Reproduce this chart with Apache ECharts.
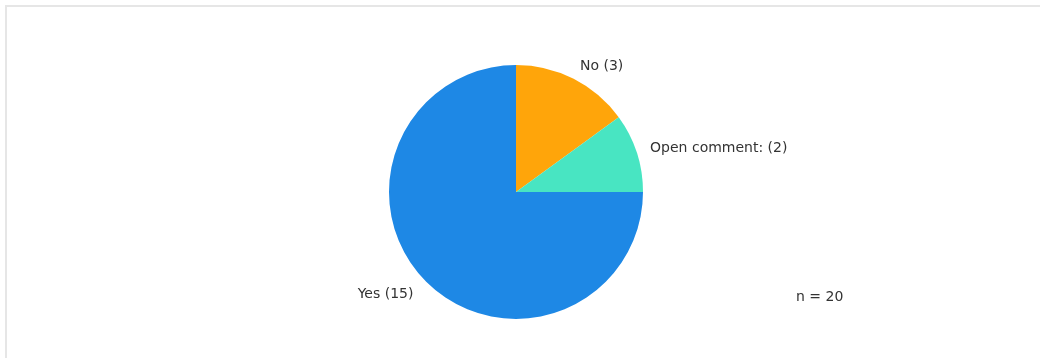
<!DOCTYPE html>
<html>
<head>
<meta charset="utf-8">
<script src="https://cdn.jsdelivr.net/npm/echarts@6/dist/echarts.min.js"></script>
<style>
html,body{margin:0;padding:0;background:#fff;}
#chart{width:1040px;height:358px;}
</style>
</head>
<body>
<div id="chart"></div>
<script>
const categories = ['No (3)', 'Open comment: (2)', 'Yes (15)'];
const values = [3, 2, 15];
const colors = ['#FFA50A', '#48E5C2', '#1E88E5'];
const totalLabel = 'n = 20';

const lineLens = [14, 14, 18];

const chart = echarts.init(document.getElementById('chart'));
chart.setOption({
  animation: false,
  graphic: [
    { type: 'rect', shape: { x: 6, y: 6, width: 1200, height: 500 }, style: { fill: 'none', stroke: '#e6e6e6', lineWidth: 2 }, silent: true },
    { type: 'text', left: 796, top: 290, style: { text: totalLabel, fontFamily: 'DejaVu Sans', fontSize: 14, fill: '#333' } }
  ],
  series: [{
    type: 'pie',
    center: [516, 192],
    radius: [0, 127],
    startAngle: 90,
    clockwise: true,
    avoidLabelOverlap: false,
    label: {
      show: true,
      position: 'outside',
      formatter: '{b}',
      fontFamily: 'DejaVu Sans',
      fontSize: 14,
      color: '#333',
      distanceToLabelLine: 0
    },
    labelLine: { show: false, length: 14, length2: 0 },
    itemStyle: { borderWidth: 0 },
    emphasis: { disabled: true },
    data: categories.map((c, i) => ({
      name: c,
      value: values[i],
      itemStyle: { color: colors[i] },
      labelLine: { show: false, length: lineLens[i], length2: 0 }
    }))
  }]
});
</script>
</body>
</html>
